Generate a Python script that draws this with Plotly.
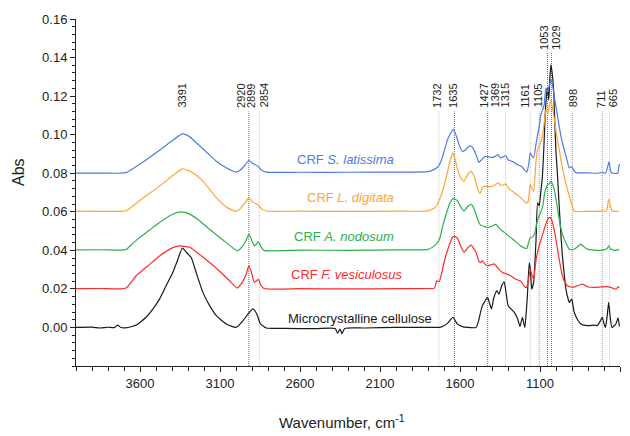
import plotly.graph_objects as go

# ---------------- data ----------------
wn_black = [4000,3900,3850,3800,3760,3740,3720,3690,3650,3624,3562,3520,3478,3437,3395,3363,3336,3320,3305,3280,3249,3207,3165,3123,3061,3000,2956,2920,2895,2870,2848,2810,2700,2500,2380,2365,2350,2338,2320,2200,2000,1800,1720,1680,1660,1644,1630,1616,1580,1554,1500,1485,1470,1460,1445,1428,1415,1403,1390,1370,1356,1340,1324,1312,1299,1280,1262,1240,1225,1210,1195,1180,1167,1160,1152,1140,1125,1115,1105,1095,1085,1075,1068,1060,1053,1045,1038,1032,1024,1015,1008,1001,990,980,970,960,948,938,925,917,902,886,865,845,803,760,742,725,711,700,691,680,671,662,650,626,612,604]
abs_black = [0.0000,0.0002,-0.0003,0.0001,-0.0001,0.0012,0.0000,-0.0002,0.0005,0.0012,0.0053,0.0095,0.0147,0.0216,0.0285,0.0354,0.0411,0.0400,0.0385,0.0363,0.0285,0.0182,0.0113,0.0061,0.0018,0.0000,0.0035,0.0075,0.0096,0.0070,0.0020,-0.0003,-0.0005,-0.0006,-0.0005,-0.0030,-0.0008,-0.0032,-0.0005,-0.0003,0.0000,0.0000,0.0002,0.0020,0.0040,0.0053,0.0035,0.0017,0.0003,0.0000,0.0000,0.0030,0.0085,0.0113,0.0135,0.0156,0.0125,0.0096,0.0150,0.0190,0.0173,0.0215,0.0237,0.0180,0.0113,0.0095,0.0079,0.0045,0.0005,0.0053,0.0000,0.0150,0.0337,0.0300,0.0199,0.0234,0.0450,0.0647,0.0630,0.0700,0.0785,0.0950,0.1095,0.1200,0.1240,0.1180,0.1300,0.1362,0.1320,0.1233,0.1080,0.0923,0.0780,0.0630,0.0490,0.0371,0.0270,0.0199,0.0150,0.0130,0.0147,0.0079,0.0040,0.0018,0.0009,0.0012,0.0010,0.0030,0.0053,0.0020,0.0000,0.0060,0.0130,0.0060,0.0000,0.0018,0.0050,0.0005]

wn_red = [4000,3850,3720,3687,3650,3624,3550,3478,3405,3353,3290,3230,3165,3100,3040,2992,2960,2935,2920,2905,2885,2860,2845,2825,2600,2300,2000,1800,1760,1745,1730,1715,1700,1670,1644,1630,1616,1595,1575,1555,1530,1515,1500,1485,1475,1460,1440,1428,1405,1387,1360,1335,1310,1283,1250,1220,1195,1183,1170,1161,1150,1140,1128,1120,1105,1090,1074,1058,1042,1030,1022,1005,991,975,960,945,928,896,870,834,800,761,720,678,650,626,612,606]
abs_red = [0.0201,0.0202,0.0200,0.0205,0.0240,0.0268,0.0320,0.0371,0.0410,0.0423,0.0416,0.0380,0.0337,0.0290,0.0242,0.0205,0.0235,0.0280,0.0320,0.0290,0.0234,0.0250,0.0220,0.0202,0.0201,0.0200,0.0201,0.0202,0.0204,0.0242,0.0238,0.0280,0.0337,0.0420,0.0470,0.0470,0.0463,0.0420,0.0389,0.0410,0.0427,0.0410,0.0390,0.0350,0.0337,0.0345,0.0325,0.0320,0.0325,0.0330,0.0305,0.0285,0.0278,0.0268,0.0250,0.0240,0.0210,0.0208,0.0260,0.0302,0.0270,0.0250,0.0330,0.0371,0.0423,0.0465,0.0509,0.0550,0.0570,0.0565,0.0545,0.0480,0.0406,0.0330,0.0268,0.0235,0.0216,0.0208,0.0215,0.0225,0.0210,0.0208,0.0210,0.0212,0.0205,0.0199,0.0210,0.0205]

wn_green = [4000,3850,3720,3687,3640,3603,3540,3478,3395,3343,3290,3230,3165,3100,3061,2990,2960,2935,2920,2905,2885,2860,2845,2825,2600,2300,2000,1800,1760,1728,1710,1690,1665,1644,1630,1616,1595,1575,1555,1530,1515,1500,1485,1470,1450,1428,1400,1376,1355,1335,1310,1283,1250,1220,1183,1170,1161,1145,1132,1115,1105,1085,1070,1053,1042,1032,1020,1011,995,980,965,949,930,917,895,870,845,825,803,742,700,680,671,660,636,615,606]
abs_green = [0.0402,0.0403,0.0401,0.0404,0.0440,0.0466,0.0505,0.0544,0.0587,0.0599,0.0588,0.0555,0.0509,0.0465,0.0440,0.0397,0.0420,0.0455,0.0483,0.0460,0.0423,0.0444,0.0420,0.0400,0.0401,0.0400,0.0402,0.0405,0.0423,0.0458,0.0520,0.0578,0.0640,0.0668,0.0665,0.0656,0.0625,0.0604,0.0625,0.0639,0.0620,0.0587,0.0550,0.0530,0.0525,0.0518,0.0525,0.0535,0.0515,0.0500,0.0485,0.0466,0.0445,0.0423,0.0410,0.0445,0.0466,0.0470,0.0492,0.0560,0.0578,0.0620,0.0700,0.0740,0.0745,0.0759,0.0740,0.0716,0.0640,0.0561,0.0500,0.0458,0.0425,0.0406,0.0404,0.0415,0.0432,0.0418,0.0406,0.0400,0.0402,0.0410,0.0423,0.0408,0.0400,0.0402,0.0405]

wn_orange = [4000,3850,3720,3687,3583,3478,3395,3336,3300,3270,3207,3123,3061,3000,2975,2945,2920,2895,2860,2840,2810,2600,2300,2000,1800,1760,1748,1720,1700,1680,1660,1644,1630,1616,1595,1575,1555,1533,1512,1490,1475,1460,1448,1420,1390,1362,1345,1330,1314,1295,1262,1230,1210,1185,1175,1161,1150,1140,1125,1115,1105,1085,1070,1063,1053,1042,1032,1020,1007,995,980,965,949,930,917,902,886,800,740,711,685,671,662,650,620,606]
abs_orange = [0.0603,0.0602,0.0602,0.0605,0.0670,0.0733,0.0788,0.0823,0.0815,0.0802,0.0759,0.0673,0.0625,0.0602,0.0615,0.0645,0.0672,0.0650,0.0635,0.0615,0.0604,0.0603,0.0602,0.0603,0.0605,0.0620,0.0630,0.0680,0.0733,0.0800,0.0870,0.0906,0.0870,0.0820,0.0775,0.0759,0.0790,0.0810,0.0785,0.0720,0.0695,0.0725,0.0733,0.0730,0.0735,0.0750,0.0735,0.0740,0.0745,0.0720,0.0700,0.0680,0.0664,0.0645,0.0650,0.0742,0.0720,0.0707,0.0860,0.0925,0.0940,0.0992,0.1090,0.1130,0.1110,0.1150,0.1180,0.1130,0.1061,0.0990,0.0923,0.0850,0.0785,0.0720,0.0681,0.0640,0.0604,0.0602,0.0602,0.0605,0.0603,0.0664,0.0640,0.0605,0.0602,0.0604]

wn_blue = [4000,3850,3720,3687,3583,3478,3395,3336,3300,3270,3207,3123,3061,3000,2975,2945,2920,2895,2860,2840,2810,2600,2300,2000,1800,1760,1735,1715,1690,1678,1660,1644,1630,1616,1600,1585,1570,1550,1533,1515,1495,1481,1465,1448,1420,1395,1375,1362,1348,1330,1314,1300,1270,1241,1215,1195,1182,1170,1161,1150,1140,1125,1115,1105,1094,1075,1063,1053,1042,1032,1022,1011,995,980,965,949,930,917,902,888,875,800,740,711,690,675,668,656,640,614,608,603]
abs_blue = [0.0800,0.0801,0.0800,0.0803,0.0857,0.0919,0.0971,0.1004,0.0995,0.0975,0.0927,0.0862,0.0828,0.0806,0.0815,0.0840,0.0866,0.0850,0.0835,0.0815,0.0806,0.0805,0.0805,0.0806,0.0808,0.0820,0.0835,0.0871,0.0940,0.0975,0.1005,0.1026,0.1010,0.0975,0.0935,0.0914,0.0918,0.0935,0.0942,0.0925,0.0885,0.0856,0.0870,0.0885,0.0885,0.0882,0.0890,0.0896,0.0880,0.0885,0.0892,0.0870,0.0860,0.0845,0.0835,0.0815,0.0806,0.0850,0.0906,0.0890,0.0880,0.0950,0.1000,0.1040,0.1105,0.1150,0.1242,0.1222,0.1255,0.1285,0.1260,0.1199,0.1120,0.1043,0.0975,0.0923,0.0865,0.0828,0.0834,0.0815,0.0803,0.0802,0.0800,0.0805,0.0800,0.0840,0.0860,0.0805,0.0800,0.0800,0.0830,0.0848]

series_names = ["Microcrystalline cellulose", "CRF F. vesiculosus", "CRF A. nodosum", "CRF L. digitata", "CRF S. latissima"]
series_labels = ["Microcrystalline cellulose", "CRF <i>F. vesiculosus</i>", "CRF <i>A. nodosum</i>",
                 "CRF <i>L. digitata</i>", "CRF <i>S. latissima</i>"]
series_colors = ["#1a1a1a", "#ff2a2a", "#2bb04c", "#ffa530", "#4f7be8"]
label_wn = [2222, 2309, 2322, 2284, 2316]
label_abs = [0.0044, 0.0277, 0.0473, 0.0675, 0.0871]

peak_text = ["3391", "2920", "2899", "2854", "1732", "1635", "1427", "1369", "1315",
             "1161", "1105", "1053", "1029", "898", "711", "665"]
peak_label_wn = [3338, 2973, 2910, 2827, 1748, 1648, 1450, 1383, 1320,
                 1199, 1115, 1074, 1000, 896, 723, 646]
line_wn = [2920, 2854, 1732, 1635, 1427, 1315, 1161, 1105, 1053, 1029, 898, 711, 665]
line_shade = ["dark", "light", "light", "dark", "dark", "light", "light", "mid", "dark", "dark", "mid", "mid", "light"]

y_ticks = [0.00, 0.02, 0.04, 0.06, 0.08, 0.10, 0.12, 0.14, 0.16]
x_ticks = [3600, 3100, 2600, 2100, 1600, 1100, 600]

xs = [wn_black, wn_red, wn_green, wn_orange, wn_blue]
ys = [abs_black, abs_red, abs_green, abs_orange, abs_blue]

# ---------------- figure ----------------
FONT = "Arial, Liberation Sans, sans-serif"
fig = go.Figure()

shade_col = {"dark": "#6a6a6a", "mid": "#999999", "light": "#c8c8c8"}
for wn, sh in zip(line_wn, line_shade):
    top = 0.143 if wn in (1053, 1029) else 0.112
    fig.add_shape(type="line", xref="x", yref="y", x0=wn, x1=wn, y0=-0.02, y1=top,
                  line=dict(color=shade_col[sh], width=1, dash="1px,1px"), layer="below")

for x, y, c, n in zip(xs, ys, series_colors, series_names):
    fig.add_trace(go.Scatter(x=x, y=y, mode="lines", name=n,
                             line=dict(color=c, width=1.2, shape="spline", smoothing=0.5),
                             showlegend=False, hoverinfo="skip"))

for wn, a, t, c in zip(label_wn, label_abs, series_labels, series_colors):
    fig.add_annotation(x=wn, y=a, text=t, showarrow=False, xref="x", yref="y",
                       font=dict(family=FONT, size=13, color=c), xanchor="center", yanchor="middle")

for wn, t in zip(peak_label_wn, peak_text):
    yb = 0.1435 if t in ("1053", "1029") else 0.1135
    fig.add_annotation(x=wn, y=yb, text=t, showarrow=False, xref="x", yref="y", textangle=-90,
                       font=dict(family=FONT, size=11, color="#222222"),
                       xanchor="center", yanchor="bottom", borderpad=0)

fig.add_annotation(text="Abs", xref="paper", yref="paper", x=-0.1066, y=0.559, showarrow=False,
                   textangle=-90, font=dict(family=FONT, size=16, color="#222222"),
                   xanchor="center", yanchor="middle")
fig.add_annotation(text="Wavenumber, cm<sup>-1</sup>", xref="paper", yref="paper", x=0.489, y=-0.161,
                   showarrow=False, font=dict(family=FONT, size=15, color="#222222"),
                   xanchor="center", yanchor="middle")

fig.update_xaxes(range=[4000, 600], tickmode="array", tickvals=x_ticks,
                 ticktext=[str(v) for v in x_ticks], automargin=False,
                 showgrid=False, zeroline=False, showline=True, linecolor="#222222", linewidth=1,
                 ticks="outside", ticklen=5, tickcolor="#222222",
                 minor=dict(tick0=600, dtick=100, ticklen=4, tickcolor="#222222", ticks="outside", showgrid=False),
                 tickfont=dict(family=FONT, size=13, color="#222222"))
fig.update_yaxes(range=[-0.02, 0.16], tickmode="array", tickvals=y_ticks,
                 ticktext=["%.2f" % v for v in y_ticks], automargin=False,
                 showgrid=False, zeroline=False, showline=True, linecolor="#222222", linewidth=1,
                 ticks="outside", ticklen=5, tickcolor="#222222",
                 minor=dict(tick0=0, dtick=0.004, ticklen=3, tickcolor="#222222", ticks="outside", showgrid=False),
                 tickfont=dict(family=FONT, size=13, color="#222222"))

fig.update_layout(width=630, height=436, margin=dict(l=76, r=10, t=19, b=70, autoexpand=False),
                  paper_bgcolor="white", plot_bgcolor="white", showlegend=False)

fig.write_html("out.html", config={"displayModeBar": False},
               post_script="document.body.style.margin='0';document.body.style.overflow='hidden';")
